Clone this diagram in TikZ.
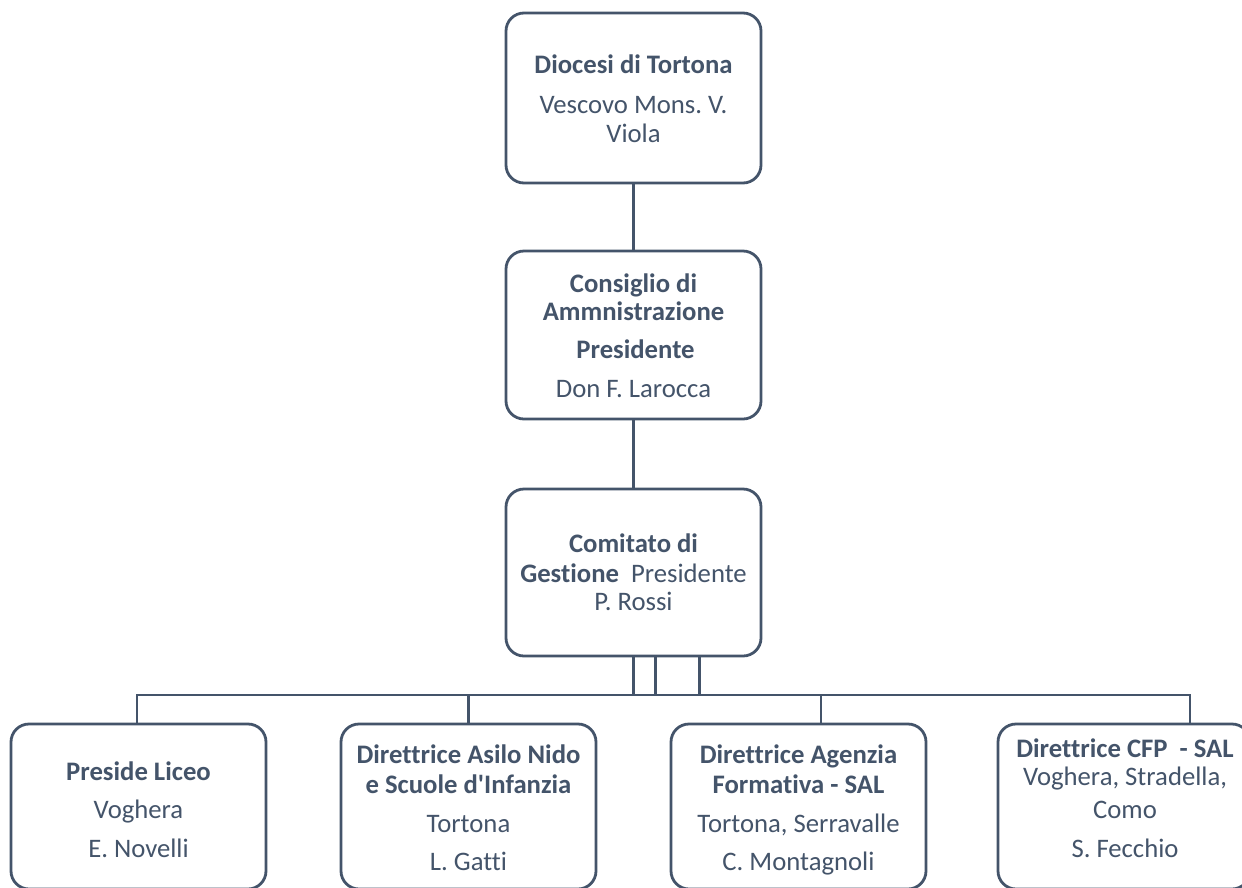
\documentclass[tikz,border=0pt]{standalone}
\usepackage{fontspec}
\setmainfont{Carlito}[Ligatures={TeXOff,CommonOff}]
\definecolor{slate}{HTML}{44546A}
\frenchspacing
\begin{document}
\begin{tikzpicture}[x=1pt,y=-1pt,
  orgbox/.style={draw=slate,line width=2.8pt,rounded corners=18pt,minimum width=255pt,inner sep=0pt,outer sep=0pt,fill=white},
  txt/.style={align=center,text=slate,inner sep=0pt,font=\fontsize{26.7}{28.5}\selectfont},
  link/.style={draw=slate,line width=2.8pt}]
\useasboundingbox (0,0) rectangle (1242,887);
% boxes
\node[orgbox,minimum height=170pt] (dio) at (633.5,98) {};
\node[orgbox,minimum height=168pt] (cda) at (633.5,335) {};
\node[orgbox,minimum height=167pt] (cdg) at (633.5,572.5) {};
\node[orgbox,minimum height=165pt] (b1) at (138.5,806.5) {};
\node[orgbox,minimum height=165pt] (b2) at (468.5,806.5) {};
\node[orgbox,minimum height=165pt] (b3) at (798.5,806.5) {};
\node[orgbox,minimum height=165pt,minimum width=252pt] (b4) at (1124,806.5) {};
% texts
\node[txt] (dioT) at (633.5,98.5) {\textbf{Diocesi di Tortona}\\[11.5pt]Vescovo Mons. V.\\[0.5pt]Viola};
\node[txt] (cdaT) at (633.5,335.5) {\textbf{Consiglio di}\\\textbf{Ammnistrazione}\\[9.5pt]\textbf{\hspace{4pt}Presidente}\\[10.5pt]Don F. Larocca};
\node[txt] (cdgT) at (633.5,572) {\textbf{Comitato di}\\[1.5pt]\textbf{Gestione}\ \ Presidente\\P. Rossi};
\node[txt] (b1T) at (138.5,809.5) {\textbf{Preside Liceo}\\[9.5pt]Voghera\\[10.5pt]E. Novelli};
\node[txt] (b2T) at (468.5,807.5) {\textbf{Direttrice Asilo Nido}\\[1.5pt]\textbf{e Scuole d'Infanzia}\\[10.5pt]Tortona\\[9.5pt]L. Gatti};
\node[txt] (b3T) at (798.5,810) {\textbf{Direttrice Agenzia}\\[1.5pt]\textbf{Formativa - SAL}\\[10.5pt]Tortona, Serravalle\\[9.5pt]C. Montagnoli};
\node[txt] (b4T) at (1125,798) {\textbf{Direttrice CFP\ \ - SAL}\\Voghera, Stradella,\\[4.5pt]Como\\[10.5pt]S. Fecchio};
% connectors
\coordinate (bus) at (0,695);
\draw[link] (dio.south) -- (cda.north);
\draw[link] (cda.south) -- (cdg.north);
\draw[link] (cdg.south) -- (cdg.south |- bus) -| ([xshift=-1.5pt]b1.north);
\draw[link] ([xshift=22pt]cdg.south) -- ([xshift=22pt]cdg.south |- bus) -| (b2.north);
\draw[link] ([xshift=66pt]cdg.south) -- ([xshift=66pt]cdg.south |- bus) -| ([xshift=22.5pt]b3.north);
\draw[link] (cdg.south) -- (cdg.south |- bus) -| ([xshift=66pt]b4.north);
\end{tikzpicture}
\end{document}
